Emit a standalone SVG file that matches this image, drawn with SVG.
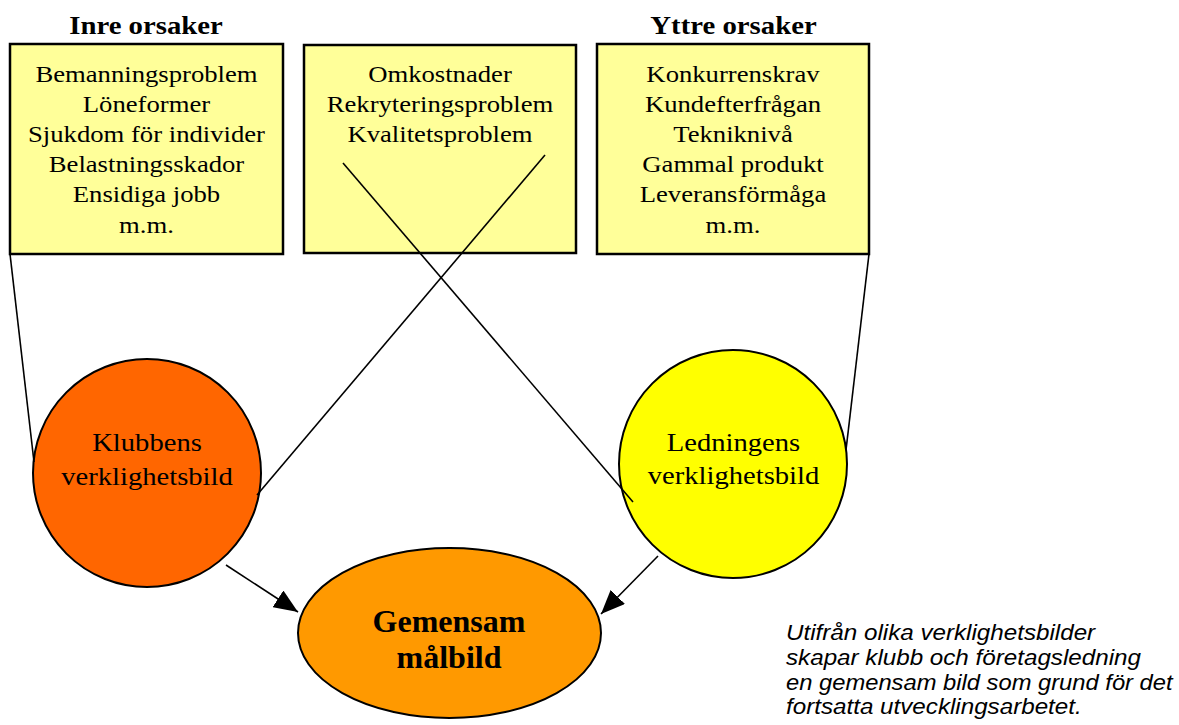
<svg xmlns="http://www.w3.org/2000/svg" width="1179" height="725" viewBox="0 0 1179 725">
  <style>
    .box { fill: #FFFF99; stroke: #000; stroke-width: 2.5; }
    .title { font-family: "Liberation Serif", "Times New Roman", serif; font-weight: bold; font-size: 25px; text-anchor: middle; fill: #000; }
    .bt { font-family: "Liberation Serif", "Times New Roman", serif; font-size: 23px; text-anchor: middle; fill: #000; }
    .ct { font-family: "Liberation Serif", "Times New Roman", serif; font-size: 26px; text-anchor: middle; fill: #000; }
    .gt { font-family: "Liberation Serif", "Times New Roman", serif; font-weight: bold; font-size: 32px; text-anchor: middle; fill: #000; }
    .it { font-family: "Liberation Sans", Arial, sans-serif; font-style: italic; font-size: 22px; fill: #000; }
    .ln { stroke: #000; stroke-width: 1.6; fill: none; }
    .node { stroke: #000; stroke-width: 2; }
  </style>
  <defs>
    <marker id="ah" markerUnits="userSpaceOnUse" markerWidth="24" markerHeight="20" refX="24" refY="10" orient="auto">
      <path d="M0,0 L24,10 L0,20 z" fill="#000"/>
    </marker>
  </defs>
  <rect width="1179" height="725" fill="#fff"/>

  <g id="titles">
    <text class="title" transform="translate(146,34) scale(1.15,1)">Inre orsaker</text>
    <text class="title" transform="translate(733.5,34) scale(1.15,1)">Yttre orsaker</text>
  </g>

  <g id="box-inre">
    <rect class="box" x="10" y="44" width="273" height="210"/>
    <g transform="translate(146.5,0)">
      <text class="bt" transform="translate(0,82) scale(1.16,1)">Bemanningsproblem</text>
      <text class="bt" transform="translate(0,112) scale(1.16,1)">Löneformer</text>
      <text class="bt" transform="translate(0,142) scale(1.16,1)">Sjukdom för individer</text>
      <text class="bt" transform="translate(0,172) scale(1.16,1)">Belastningsskador</text>
      <text class="bt" transform="translate(0,202) scale(1.16,1)">Ensidiga jobb</text>
      <text class="bt" transform="translate(0,232.5) scale(1.16,1)">m.m.</text>
    </g>
  </g>

  <g id="box-mitt">
    <rect class="box" x="304" y="45" width="272" height="208"/>
    <g transform="translate(440,0)">
      <text class="bt" transform="translate(0,82) scale(1.16,1)">Omkostnader</text>
      <text class="bt" transform="translate(0,112) scale(1.16,1)">Rekryteringsproblem</text>
      <text class="bt" transform="translate(0,142) scale(1.16,1)">Kvalitetsproblem</text>
    </g>
  </g>

  <g id="box-yttre">
    <rect class="box" x="597" y="44" width="272" height="210"/>
    <g transform="translate(733,0)">
      <text class="bt" transform="translate(0,82) scale(1.16,1)">Konkurrenskrav</text>
      <text class="bt" transform="translate(0,112) scale(1.16,1)">Kundefterfrågan</text>
      <text class="bt" transform="translate(0,142) scale(1.16,1)">Teknikniv&#229;</text>
      <text class="bt" transform="translate(0,172) scale(1.16,1)">Gammal produkt</text>
      <text class="bt" transform="translate(0,202) scale(1.16,1)">Leveransförmåga</text>
      <text class="bt" transform="translate(0,232.5) scale(1.16,1)">m.m.</text>
    </g>
  </g>

  <g id="klubbens">
    <circle class="node" cx="147" cy="473" r="114" fill="#FF6600"/>
    <text class="ct" transform="translate(147,451) scale(1.1,1)">Klubbens</text>
    <text class="ct" transform="translate(147,485) scale(1.1,1)">verklighetsbild</text>
  </g>

  <g id="ledningens">
    <circle class="node" cx="733" cy="464" r="114" fill="#FFFF00"/>
    <text class="ct" transform="translate(733.5,451) scale(1.1,1)">Ledningens</text>
    <text class="ct" transform="translate(733.5,484) scale(1.1,1)">verklighetsbild</text>
  </g>

  <g id="gemensam">
    <ellipse class="node" cx="449.5" cy="633" rx="151.5" ry="85" fill="#FF9900"/>
    <text class="gt" x="449" y="632">Gemensam</text>
    <text class="gt" x="449" y="668">målbild</text>
  </g>

  <g id="connectors">
    <line class="ln" x1="10" y1="254" x2="34" y2="462"/>
    <line class="ln" x1="869" y1="254" x2="846" y2="450"/>
    <line class="ln" x1="343" y1="163" x2="633" y2="502"/>
    <line class="ln" x1="545" y1="155" x2="257" y2="495"/>
    <line class="ln" x1="226" y1="565" x2="298" y2="612" marker-end="url(#ah)"/>
    <line class="ln" x1="658" y1="556" x2="601" y2="614" marker-end="url(#ah)"/>
  </g>

  <g id="caption">
    <text class="it" transform="translate(786,640) scale(1.1,1)">Utifrån olika verklighetsbilder</text>
    <text class="it" transform="translate(786,665) scale(1.1,1)">skapar klubb och företagsledning</text>
    <text class="it" transform="translate(786,689.5) scale(1.08,1)">en gemensam bild som grund för det</text>
    <text class="it" transform="translate(786,714) scale(1.1,1)">fortsatta utvecklingsarbetet.</text>
  </g>
</svg>
